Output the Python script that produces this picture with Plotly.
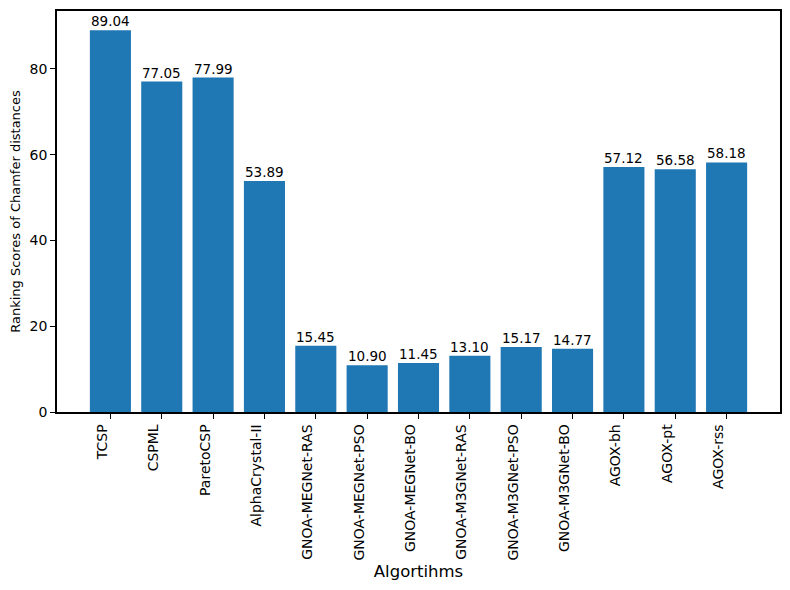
import plotly.graph_objects as go

categories = ["TCSP", "CSPML", "ParetoCSP", "AlphaCrystal-II", "GNOA-MEGNet-RAS",
              "GNOA-MEGNet-PSO", "GNOA-MEGNet-BO", "GNOA-M3GNet-RAS", "GNOA-M3GNet-PSO",
              "GNOA-M3GNet-BO", "AGOX-bh", "AGOX-pt", "AGOX-rss"]
values = [89.04, 77.05, 77.99, 53.89, 15.45, 10.90, 11.45, 13.10, 15.17, 14.77, 57.12, 56.58, 58.18]

xs = list(range(len(categories)))
fig = go.Figure(go.Bar(
    x=xs, y=values,
    marker=dict(color="#1f77b4", line=dict(width=0)),
    width=0.8,
))

for x, v in zip(xs, values):
    fig.add_annotation(x=x, y=v, text=f"{v:.2f}", showarrow=False,
                       yanchor="bottom", yshift=-1,
                       font=dict(family="DejaVu Sans", size=13.5, color="black"))

fig.update_layout(
    width=790, height=590,
    margin=dict(l=49, r=18, t=3, b=186),
    plot_bgcolor="white", paper_bgcolor="white",
    font=dict(family="DejaVu Sans", size=13, color="black"),
    showlegend=False,
)
fig.update_xaxes(
    tickmode="array", tickvals=xs, ticktext=categories,
    tickangle=-90, range=[-1.04, 13.04],
    showline=True, linecolor="black", linewidth=1.5, mirror=True,
    ticks="outside", ticklen=5, tickcolor="black", showgrid=False,
    automargin=False, ticklabelshift=-8,
    title=dict(text="Algortihms", font=dict(size=16.5), standoff=6),
    tickfont=dict(size=14),
)
fig.update_yaxes(
    range=[0, 93.5], tickvals=[0, 20, 40, 60, 80],
    showline=True, linecolor="black", linewidth=1.5, mirror=True,
    ticks="outside", ticklen=5, tickcolor="black", showgrid=False, zeroline=False,
    automargin=False,
    title=dict(text="Ranking Scores of Chamfer distances", font=dict(size=13), standoff=6),
    tickfont=dict(size=14),
)

fig.write_html("out.html")
